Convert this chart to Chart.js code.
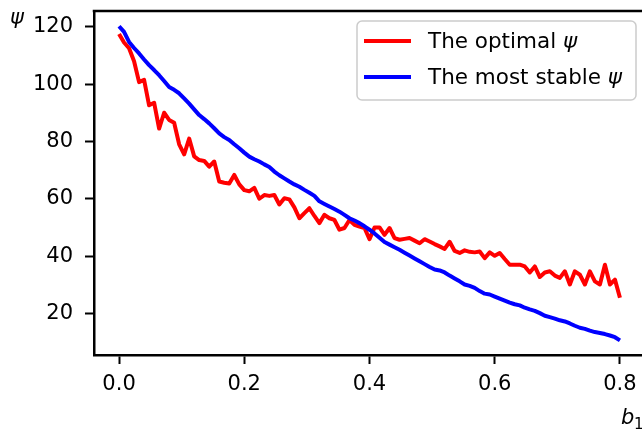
<!DOCTYPE html>
<html>
<head>
<meta charset="utf-8">
<script src="https://cdn.jsdelivr.net/npm/chart.js@4.4.1/dist/chart.umd.min.js"></script>
<style>
    html, body { margin: 0; padding: 0; background: #fff; overflow: hidden; }
    .wrap { width: 648px; height: 430px; }
</style>
</head>
<body>
<div class="wrap"><canvas id="psiChart" width="648" height="430"></canvas></div>
<script>
// b1 values along the x axis
const b1Values = [
    0, 0.008, 0.016, 0.024, 0.032, 0.04, 0.048, 0.056, 0.064, 0.072,
    0.08, 0.088, 0.096, 0.104, 0.112, 0.12, 0.128, 0.136, 0.144, 0.152,
    0.16, 0.168, 0.176, 0.184, 0.192, 0.2, 0.208, 0.216, 0.224, 0.232,
    0.24, 0.248, 0.256, 0.264, 0.272, 0.28, 0.288, 0.296, 0.304, 0.312,
    0.32, 0.328, 0.336, 0.344, 0.352, 0.36, 0.368, 0.376, 0.384, 0.392,
    0.4, 0.408, 0.416, 0.424, 0.432, 0.44, 0.448, 0.456, 0.464, 0.472,
    0.48, 0.488, 0.496, 0.504, 0.512, 0.52, 0.528, 0.536, 0.544, 0.552,
    0.56, 0.568, 0.576, 0.584, 0.592, 0.6, 0.608, 0.616, 0.624, 0.632,
    0.64, 0.648, 0.656, 0.664, 0.672, 0.68, 0.688, 0.696, 0.704, 0.712,
    0.72, 0.728, 0.736, 0.744, 0.752, 0.76, 0.768, 0.776, 0.784, 0.792,
    0.8
]

// the optimal psi (red)
const optimalPsi = [
    117.5, 114.5, 112.5, 108, 100.7, 101.5, 92.6, 93.5, 84.5, 90,
    87.5, 86.5, 79, 75.5, 81, 74.8, 73.5, 73.2, 71.2, 73,
    66, 65.6, 65.3, 68.3, 65, 63, 62.6, 63.8, 60, 61.3,
    61, 61.3, 58, 60.2, 59.8, 57, 53.2, 55, 56.7, 54,
    51.5, 54.4, 53.2, 52.6, 49.2, 49.8, 52.6, 50.9, 50.3, 49.8,
    45.9, 50, 50, 47.4, 49.8, 46.3, 45.7, 46, 46.3, 45.4,
    44.5, 45.9, 45.1, 44.2, 43.4, 42.5, 45, 41.8, 41.1, 42,
    41.5, 41.3, 41.6, 39.3, 41.3, 40.1, 41.1, 39, 37, 37,
    37, 36.4, 34.3, 36.4, 32.7, 34.3, 34.7, 33.2, 32.4, 34.7,
    30.1, 34.7, 33.5, 30.1, 34.7, 31.2, 30.1, 37, 30.1, 31.8,
    25.5
]

// the most stable psi (blue)
const stablePsi = [
    120.2, 118.2, 114.7, 112.6, 110.7, 108.6, 106.6, 104.9, 103.1, 101.1,
    99, 98, 96.8, 95, 93.2, 91.2, 89.2, 87.8, 86.3, 84.6,
    82.8, 81.5, 80.5, 79, 77.6, 76.1, 74.7, 73.8, 73, 72,
    71.1, 69.5, 68.2, 67.1, 66, 65, 64.2, 63.1, 62.1, 61,
    59.1, 58.2, 57.3, 56.4, 55.5, 54.4, 53.2, 52.4, 51.5, 50.4,
    49.2, 47.9, 46.4, 44.9, 44, 43.1, 42.2, 41.2, 40.2, 39.2,
    38.2, 37.2, 36.2, 35.3, 35, 34.3, 33.2, 32.2, 31.2, 30.1,
    29.6, 28.9, 27.8, 26.9, 26.6, 25.9, 25.2, 24.5, 23.8, 23.2,
    22.8, 22, 21.4, 20.9, 20.1, 19.2, 18.7, 18.2, 17.6, 17.2,
    16.5, 15.7, 15, 14.6, 14, 13.5, 13.2, 12.8, 12.3, 11.7,
    10.6
]

const xTicks = [0, 0.2, 0.4, 0.6, 0.8]
const yTicks = [20, 40, 60, 80, 100, 120]

const FONT = "'DejaVu Sans', sans-serif"
Chart.defaults.font.family = FONT
Chart.defaults.font.size = 21
Chart.defaults.color = '#000'

// top spine + axis labels (psi, b1)
const framePlugin = {
    id: 'frame',
    afterDraw(chart) {
        const { ctx, chartArea } = chart
        ctx.save()
        ctx.strokeStyle = '#000'
        ctx.lineWidth = 2.5
        ctx.beginPath()
        ctx.moveTo(chartArea.left - 1.25, chartArea.top)
        ctx.lineTo(chartArea.right, chartArea.top)
        ctx.stroke()

        ctx.fillStyle = '#000'
        ctx.font = 'italic 21px ' + FONT
        ctx.textBaseline = 'alphabetic'
        ctx.textAlign = 'left'
        ctx.fillText('ψ', 10, 24)
        ctx.fillText('b', 621, 424)
        ctx.font = '15px ' + FONT
        ctx.fillText('1', 634, 429)
        ctx.restore()
    },
}

// matplotlib style legend box
const legendPlugin = {
    id: 'boxLegend',
    afterDraw(chart) {
        const { ctx } = chart
        const x = 357, y = 21, w = 279, h = 79, r = 5
        ctx.save()
        ctx.beginPath()
        ctx.roundRect(x, y, w, h, r)
        ctx.fillStyle = 'rgba(255,255,255,0.8)'
        ctx.fill()
        ctx.strokeStyle = '#cccccc'
        ctx.lineWidth = 1.5
        ctx.stroke()

        chart.data.datasets.forEach((ds, i) => {
            const cy = 41 + i * 36
            ctx.strokeStyle = ds.borderColor
            ctx.lineWidth = 4
            ctx.beginPath()
            ctx.moveTo(364, cy)
            ctx.lineTo(411, cy)
            ctx.stroke()

            ctx.fillStyle = '#000'
            ctx.textBaseline = 'middle'
            ctx.textAlign = 'left'
            ctx.font = '21.5px ' + FONT
            const txt = ds.label + ' '
            ctx.fillText(txt, 428, cy + 1)
            const tw = ctx.measureText(txt).width
            ctx.font = 'italic 21.5px ' + FONT
            ctx.fillText('ψ', 428 + tw, cy + 1)
        })
        ctx.restore()
    },
}

const toPoints = (ys) => b1Values.map((x, i) => ({ x: x, y: ys[i] }))

new Chart(document.getElementById('psiChart'), {
    type: 'line',
    data: {
        datasets: [
            {
                label: 'The optimal',
                data: toPoints(optimalPsi),
                borderColor: 'rgb(255, 0, 0)',
                borderWidth: 4,
                pointRadius: 0,
                tension: 0,
                fill: false,
                order: 1,
                borderJoinStyle: 'round',
            },
            {
                label: 'The most stable',
                data: toPoints(stablePsi),
                borderColor: 'rgb(0, 0, 255)',
                borderWidth: 4,
                pointRadius: 0,
                tension: 0,
                fill: false,
                order: 0,
                borderJoinStyle: 'round',
            },
        ],
    },
    options: {
        responsive: false,
        animation: false,
        events: [],
        layout: { padding: { left: 0, top: 11, right: 3, bottom: 0 } },
        plugins: {
            legend: { display: false },
            tooltip: { enabled: false },
        },
        scales: {
            x: {
                type: 'linear',
                min: -0.04,
                max: 0.84,
                border: { display: true, color: '#000', width: 2.5 },
                grid: {
                    drawOnChartArea: false,
                    drawTicks: true,
                    tickLength: 9,
                    tickWidth: 2,
                    tickColor: '#000',
                },
                ticks: {
                    padding: 8,
                    maxRotation: 0,
                    callback: (v) => v.toFixed(1),
                },
                afterBuildTicks: (scale) => {
                    scale.ticks = xTicks.map((v) => ({ value: v }))
                },
                afterFit: (scale) => {
                    scale.height = 75
                    scale.paddingLeft = 0
                    scale.paddingRight = 0
                },
            },
            y: {
                type: 'linear',
                min: 5.5,
                max: 125.5,
                border: { display: true, color: '#000', width: 2.5 },
                grid: {
                    drawOnChartArea: false,
                    drawTicks: true,
                    tickLength: 9,
                    tickWidth: 2,
                    tickColor: '#000',
                },
                ticks: {
                    padding: 12,
                },
                afterBuildTicks: (scale) => {
                    scale.ticks = yTicks.map((v) => ({ value: v }))
                },
                afterFit: (scale) => {
                    scale.width = 94
                    scale.paddingTop = 0
                    scale.paddingBottom = 0
                },
            },
        },
    },
    plugins: [framePlugin, legendPlugin],
})
</script>
</body>
</html>
